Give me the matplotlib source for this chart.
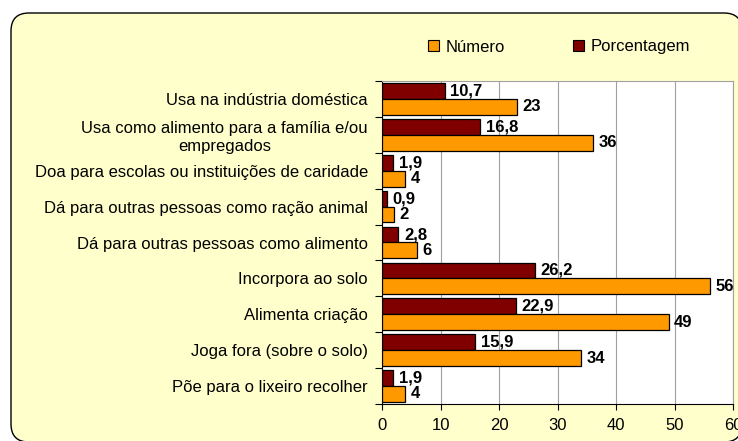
import matplotlib
matplotlib.use("Agg")
import matplotlib.pyplot as plt
from matplotlib.patches import FancyBboxPatch, Patch
import numpy as np

plt.rcParams['font.family'] = ['Liberation Sans', 'DejaVu Sans']

categorias = [
    "Usa na indústria doméstica",
    "Usa como alimento para a família e/ou\nempregados",
    "Doa para escolas ou instituições de caridade",
    "Dá para outras pessoas como ração animal",
    "Dá para outras pessoas como alimento",
    "Incorpora ao solo",
    "Alimenta criação",
    "Joga fora (sobre o solo)",
    "Põe para o lixeiro recolher",
]
numero = [23, 36, 4, 2, 6, 56, 49, 34, 4]
porcentagem = [10.7, 16.8, 1.9, 0.9, 2.8, 26.2, 22.9, 15.9, 1.9]
xticks = [0, 10, 20, 30, 40, 50, 60]

cor_num = '#FF9900'
cor_pct = '#800000'

fig = plt.figure(figsize=(7.38, 4.41), dpi=100)
fig.patch.set_facecolor('white')

# fundo amarelo com cantos arredondados (coordenadas em pixels)
fundo = FancyBboxPatch((11, -1), 731, 429,
                       boxstyle="round,pad=0,rounding_size=18",
                       facecolor='#FFFFCC', edgecolor='black', linewidth=1,
                       transform=None, zorder=-10)
fig.add_artist(fundo)

ax = fig.add_axes([382/738, 1 - 404/441, (733 - 382)/738, (404 - 81)/441])
ax.set_facecolor('white')

y = np.arange(len(categorias))
h = 0.44
r1 = ax.barh(y - h/2, porcentagem, height=h, color=cor_pct, edgecolor='black', linewidth=0.9, zorder=3)
r2 = ax.barh(y + h/2, numero, height=h, color=cor_num, edgecolor='black', linewidth=0.9, zorder=3)

for rect, v in zip(r1, porcentagem):
    ax.annotate(f"{v:.1f}".replace('.', ','),
                xy=(rect.get_width(), rect.get_y() + rect.get_height()/2),
                xytext=(4, 0), textcoords='offset points',
                ha='left', va='center', fontsize=12, fontweight='bold', annotation_clip=False)
for rect, v in zip(r2, numero):
    ax.annotate(f"{v}",
                xy=(rect.get_width(), rect.get_y() + rect.get_height()/2),
                xytext=(4, 0), textcoords='offset points',
                ha='left', va='center', fontsize=12, fontweight='bold', annotation_clip=False)

ax.set_xlim(0, 60)
ax.set_ylim(len(categorias) - 0.5, -0.5)
ax.set_xticks(xticks)
ax.set_xticklabels([str(t) for t in xticks], fontsize=12)
ax.tick_params(axis='x', length=4, width=0.8, pad=6, color='black')

ax.set_yticks(y)
ax.set_yticklabels(categorias, fontsize=12, multialignment='center')
ax.tick_params(axis='y', which='major', length=0, pad=10)
ax.set_yticks(np.arange(-0.5, len(categorias)), minor=True)
ax.tick_params(axis='y', which='minor', length=5, width=0.8, color='black')

ax.grid(axis='x', color='#A0A0A0', linewidth=0.8, zorder=0)
ax.set_axisbelow(True)
for s in ['top', 'right']:
    ax.spines[s].set_color('#A0A0A0')
    ax.spines[s].set_linewidth(0.8)
for s in ['left', 'bottom']:
    ax.spines[s].set_color('black')
    ax.spines[s].set_linewidth(0.8)

handles = [Patch(facecolor=cor_num, edgecolor='black', linewidth=0.8),
           Patch(facecolor=cor_pct, edgecolor='black', linewidth=0.8)]
fig.legend(handles, ['Número', 'Porcentagem'], loc='center',
           bbox_to_anchor=(559/738, 1 - 47/441), ncol=2, frameon=False,
           fontsize=12, handlelength=0.65, handleheight=0.65, handletextpad=0.4,
           columnspacing=4.1)

fig.savefig('out.png', dpi=100, facecolor=fig.get_facecolor())
